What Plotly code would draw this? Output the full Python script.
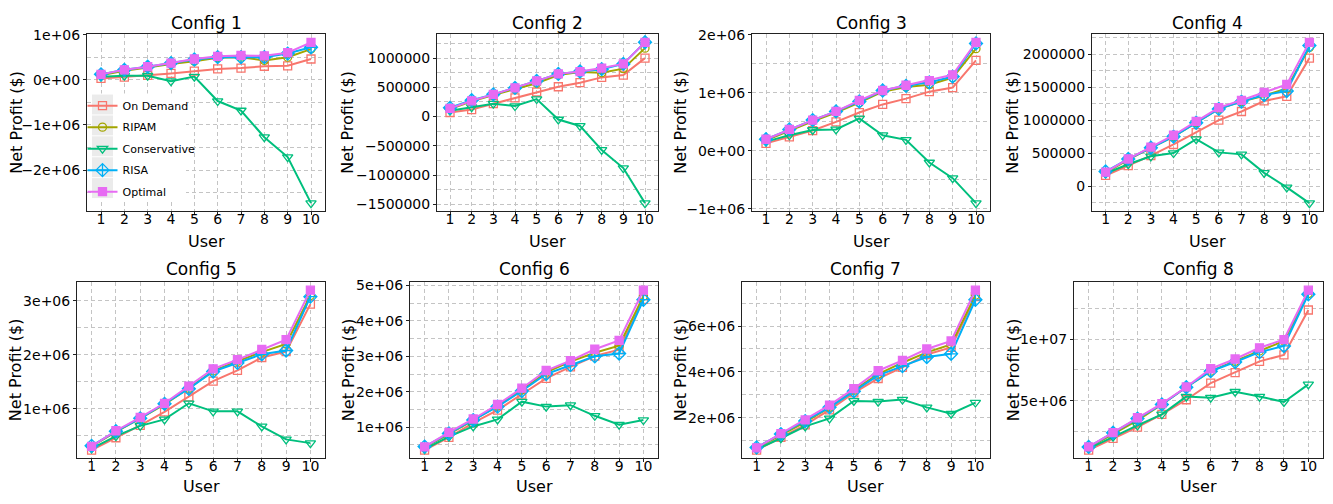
import plotly.graph_objects as go

W, H = 1333, 504
FONT = "DejaVu Sans"

users = list(range(1, 11))
series_names = ["On Demand", "RIPAM", "Conservative", "RISA", "Optimal"]
series_colors = ["#F8766D", "#A3A500", "#00BF7D", "#00B0F6", "#E76BF3"]
series_symbols = ["square-open", "circle-open", "triangle-down-open",
                  "diamond-cross-open", "square"]
series_sizes = [8, 8, 9, 10, 8]

# Net profit per user, in millions of $ (order: On Demand, RIPAM, Conservative, RISA, Optimal)
config1 = [
    [0.03, 0.06, 0.10, 0.14, 0.19, 0.24, 0.26, 0.30, 0.31, 0.46],
    [0.10, 0.20, 0.27, 0.35, 0.41, 0.49, 0.50, 0.43, 0.50, 0.68],
    [0.07, 0.09, 0.09, -0.03, 0.07, -0.47, -0.68, -1.27, -1.71, -2.73],
    [0.12, 0.22, 0.29, 0.37, 0.45, 0.50, 0.50, 0.50, 0.58, 0.72],
    [0.12, 0.22, 0.29, 0.37, 0.46, 0.52, 0.54, 0.53, 0.60, 0.83],
]
config2 = [
    [0.07, 0.12, 0.22, 0.32, 0.42, 0.51, 0.58, 0.67, 0.71, 1.00],
    [0.13, 0.26, 0.37, 0.47, 0.57, 0.71, 0.76, 0.75, 0.82, 1.17],
    [0.10, 0.16, 0.22, 0.18, 0.30, -0.05, -0.16, -0.57, -0.88, -1.48],
    [0.15, 0.28, 0.38, 0.49, 0.61, 0.73, 0.77, 0.81, 0.90, 1.27],
    [0.14, 0.27, 0.38, 0.49, 0.61, 0.73, 0.77, 0.83, 0.90, 1.27],
]
config3 = [
    [0.13, 0.24, 0.35, 0.50, 0.66, 0.80, 0.90, 1.02, 1.09, 1.56],
    [0.18, 0.35, 0.51, 0.66, 0.83, 1.02, 1.10, 1.14, 1.26, 1.76],
    [0.16, 0.27, 0.36, 0.37, 0.56, 0.27, 0.19, -0.20, -0.47, -0.90],
    [0.20, 0.37, 0.53, 0.68, 0.85, 1.04, 1.12, 1.18, 1.28, 1.85],
    [0.20, 0.37, 0.53, 0.68, 0.87, 1.04, 1.13, 1.21, 1.31, 1.87],
]
config4 = [
    [0.16, 0.31, 0.46, 0.63, 0.81, 1.00, 1.13, 1.29, 1.36, 1.94],
    [0.20, 0.40, 0.58, 0.75, 0.96, 1.17, 1.28, 1.37, 1.48, 2.10],
    [0.19, 0.33, 0.45, 0.50, 0.71, 0.51, 0.48, 0.20, -0.02, -0.26],
    [0.22, 0.41, 0.58, 0.75, 0.96, 1.17, 1.28, 1.38, 1.44, 2.13],
    [0.21, 0.41, 0.59, 0.77, 0.98, 1.19, 1.30, 1.42, 1.54, 2.18],
]
config5 = [
    [0.23, 0.46, 0.69, 0.94, 1.22, 1.51, 1.71, 1.95, 2.06, 2.94],
    [0.30, 0.57, 0.82, 1.08, 1.38, 1.70, 1.88, 2.05, 2.20, 3.10],
    [0.26, 0.49, 0.68, 0.80, 1.10, 0.95, 0.95, 0.67, 0.43, 0.36],
    [0.31, 0.58, 0.82, 1.09, 1.37, 1.69, 1.85, 2.01, 2.08, 3.08],
    [0.30, 0.59, 0.84, 1.10, 1.42, 1.74, 1.91, 2.10, 2.28, 3.20],
]
config6 = [
    [0.35, 0.71, 1.12, 1.48, 1.93, 2.38, 2.70, 3.01, 3.19, 4.61],
    [0.43, 0.80, 1.20, 1.60, 2.05, 2.55, 2.85, 3.10, 3.30, 4.70],
    [0.38, 0.73, 1.02, 1.22, 1.72, 1.58, 1.62, 1.32, 1.07, 1.20],
    [0.45, 0.82, 1.20, 1.58, 2.02, 2.50, 2.75, 3.00, 3.08, 4.60],
    [0.44, 0.85, 1.23, 1.64, 2.10, 2.60, 2.88, 3.20, 3.45, 4.87],
]
config7 = [
    [0.58, 1.14, 1.68, 2.34, 3.08, 3.71, 4.20, 4.76, 5.07, 7.29],
    [0.68, 1.25, 1.80, 2.45, 3.20, 3.90, 4.40, 4.85, 5.20, 7.35],
    [0.62, 1.10, 1.62, 1.97, 2.73, 2.70, 2.79, 2.45, 2.17, 2.66],
    [0.70, 1.28, 1.85, 2.45, 3.15, 3.85, 4.25, 4.65, 4.79, 7.15],
    [0.68, 1.30, 1.90, 2.55, 3.27, 4.05, 4.50, 5.00, 5.35, 7.57],
]
config8 = [
    [0.99, 1.95, 2.86, 3.90, 5.08, 6.43, 7.29, 8.20, 8.72, 12.37],
    [1.20, 2.30, 3.40, 4.70, 6.10, 7.40, 8.20, 9.05, 9.85, 13.70],
    [1.12, 2.08, 3.00, 3.90, 5.34, 5.25, 5.73, 5.34, 4.90, 6.33],
    [1.25, 2.40, 3.55, 4.70, 6.10, 7.40, 8.15, 8.95, 9.45, 13.65],
    [1.25, 2.42, 3.62, 4.77, 6.12, 7.60, 8.39, 9.30, 9.97, 13.98],
]
configs = [config1, config2, config3, config4, config5, config6, config7, config8]
config_titles = [f"Config {i}" for i in range(1, 9)]

# y-axis breaks and their labels for each panel
ytick_vals = [
    [-2e6, -1e6, 0, 1e6],
    [-1.5e6, -1e6, -5e5, 0, 5e5, 1e6],
    [-1e6, 0, 1e6, 2e6],
    [0, 5e5, 1e6, 1.5e6, 2e6],
    [1e6, 2e6, 3e6],
    [1e6, 2e6, 3e6, 4e6, 5e6],
    [2e6, 4e6, 6e6],
    [5e6, 1e7],
]
ytick_text = [
    ["\u22122e+06", "\u22121e+06", "0e+00", "1e+06"],
    ["\u22121500000", "\u22121000000", "\u2212500000", "0", "500000", "1000000"],
    ["\u22121e+06", "0e+00", "1e+06", "2e+06"],
    ["0", "500000", "1000000", "1500000", "2000000"],
    ["1e+06", "2e+06", "3e+06"],
    ["1e+06", "2e+06", "3e+06", "4e+06", "5e+06"],
    ["2e+06", "4e+06", "6e+06"],
    ["5e+06", "1e+07"],
]
xtick_text = [str(u) for u in users]

# Panel placement in pixels: (left, right, top, bottom)
panel_px = [
    (87, 325, 27, 209), (437, 658, 27, 209), (752, 990, 27, 209), (1092, 1323, 27, 209),
    (77, 325, 282, 463), (410, 658, 282, 463), (742, 990, 282, 463), (1074, 1323, 282, 463),
]
ytitle_x = [17, 348, 681, 1013, 15, 348, 680, 1013]


def fx(px):
    return px / W


def fy(py):
    return 1 - py / H


GRID = "#C4C4C4"
DASH = "4px,3px"
AXIS_LINE = "#222222"

fig = go.Figure()
layout = dict(
    width=W, height=H,
    margin=dict(l=0, r=0, t=0, b=0),
    paper_bgcolor="white", plot_bgcolor="white",
    font=dict(family=FONT, color="black"),
    showlegend=True,
    annotations=[], shapes=[],
)

for p, data in enumerate(configs):
    k = p + 1
    xa = "x" if k == 1 else f"x{k}"
    ya = "y" if k == 1 else f"y{k}"
    for s, name in enumerate(series_names):
        fig.add_trace(go.Scatter(
            x=users, y=[v * 1e6 for v in data[s]],
            mode="lines+markers", name=name, legendgroup=name,
            showlegend=(k == 1),
            xaxis=xa, yaxis=ya,
            line=dict(color=series_colors[s], width=2),
            marker=dict(symbol=series_symbols[s], size=series_sizes[s],
                        color=series_colors[s],
                        line=dict(color=series_colors[s], width=1.3)),
        ))

    # y range: data span expanded by 5% on each side
    vals = [v * 1e6 for row in data for v in row]
    lo, hi = min(vals), max(vals)
    pad = 0.05 * (hi - lo)
    yr = [lo - pad, hi + pad]
    ticks = ytick_vals[p]
    step = ticks[1] - ticks[0]
    minor = [t + step / 2 for t in ticks] + [ticks[0] - step / 2]
    minor = [m for m in minor if yr[0] <= m <= yr[1]]

    left, right, top, bottom = panel_px[p]
    axis_common = dict(
        showgrid=True, gridcolor=GRID, griddash=DASH, gridwidth=1,
        showline=True, mirror=True, linecolor=AXIS_LINE, linewidth=1,
        ticks="outside", ticklen=3, tickwidth=1, tickcolor=AXIS_LINE,
        tickfont=dict(family=FONT, size=14, color="black"),
        zeroline=False, fixedrange=True,
    )
    layout["xaxis" if k == 1 else f"xaxis{k}"] = dict(
        axis_common, domain=[fx(left), fx(right)], anchor=ya,
        range=[0.4, 10.6], tickmode="array", tickvals=users, ticktext=xtick_text,
        ticklabelstandoff=-8,
    )
    layout["yaxis" if k == 1 else f"yaxis{k}"] = dict(
        axis_common, domain=[fy(bottom), fy(top)], anchor=xa,
        range=yr, tickmode="array", tickvals=ticks, ticktext=ytick_text[p],
        minor=dict(tickmode="array", tickvals=minor, showgrid=True,
                   gridcolor=GRID, griddash=DASH, gridwidth=1, ticks=""),
    )

    cx = (left + right) / 2
    cy = (top + bottom) / 2
    title_y = 15 if p < 4 else 268
    xtitle_y = 240 if p < 4 else 492
    layout["annotations"] += [
        dict(text=config_titles[p], x=fx(cx), y=fy(title_y), xref="paper", yref="paper",
             xanchor="center", yanchor="middle", showarrow=False,
             font=dict(family=FONT, size=17, color="black")),
        dict(text="User", x=fx(cx), y=fy(xtitle_y), xref="paper", yref="paper",
             xanchor="center", yanchor="middle", showarrow=False,
             font=dict(family=FONT, size=16, color="black")),
        dict(text="Net Profit ($)", x=fx(ytitle_x[p]), y=fy(cy), xref="paper", yref="paper",
             xanchor="center", yanchor="middle", textangle=-90, showarrow=False,
             font=dict(family=FONT, size=16, color="black")),
    ]

# Legend inside the first panel: white box with grey key backgrounds
LEG_LEFT, LEG_TOP, LEG_ROW = 91, 88, 21.5
layout["shapes"].append(dict(
    type="rect", xref="paper", yref="paper", layer="above",
    x0=fx(LEG_LEFT), x1=fx(186), y0=fy(LEG_TOP), y1=fy(LEG_TOP + 5 * LEG_ROW + 2),
    fillcolor="white", line=dict(width=0),
))
for i in range(len(series_names)):
    t = LEG_TOP + 1 + i * LEG_ROW
    layout["shapes"].append(dict(
        type="rect", xref="paper", yref="paper", layer="above",
        x0=fx(LEG_LEFT + 1), x1=fx(LEG_LEFT + 22), y0=fy(t), y1=fy(t + LEG_ROW - 1),
        fillcolor="#EBEBEB", line=dict(width=0),
    ))

layout["legend"] = dict(
    x=fx(LEG_LEFT + 11.5 - 20), y=fy(LEG_TOP + 12 - 14.5),
    xanchor="left", yanchor="top",
    bgcolor="rgba(0,0,0,0)", borderwidth=0,
    font=dict(family=FONT, size=11, color="black"),
    tracegroupgap=2.5, traceorder="grouped", itemwidth=30,
)

fig.update_layout(**layout)
fig.write_html("out.html")
